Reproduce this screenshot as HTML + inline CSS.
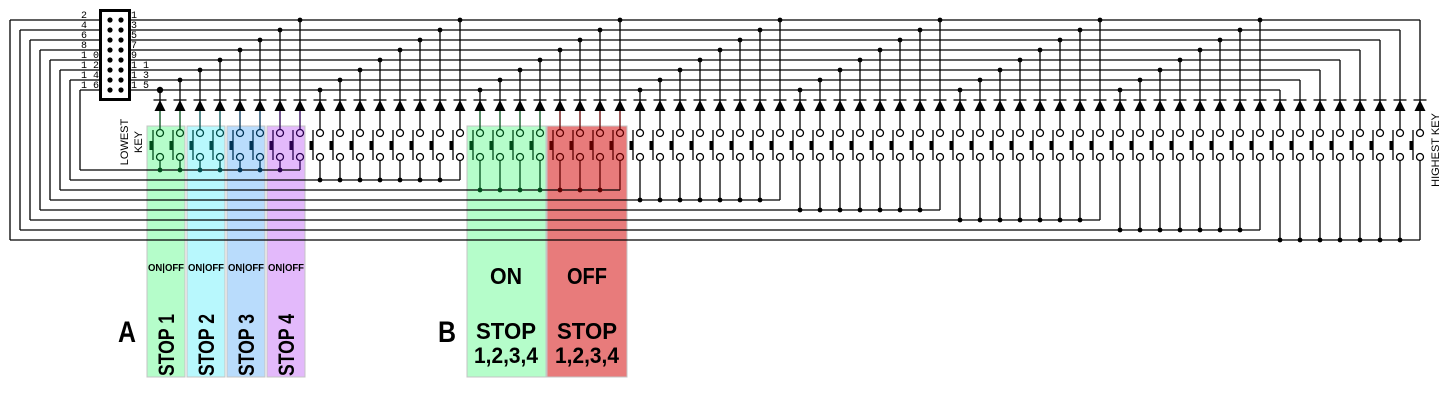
<!DOCTYPE html>
<html><head><meta charset="utf-8"><style>
html,body{margin:0;padding:0;background:#fff;width:1448px;height:400px;overflow:hidden}
svg{display:block}
.t{font-family:"Liberation Sans",sans-serif}
.m{font-family:"Liberation Mono",monospace;font-size:10px}
</style></head><body>
<svg id="s" width="1448" height="400" viewBox="0 0 1448 400" xmlns="http://www.w3.org/2000/svg">
<g id="bg">
<rect x="147" y="126" width="38" height="251" fill="#b5fdca" stroke="#c4c4c4"/>
<rect x="187" y="126" width="38" height="251" fill="#b8f8fd" stroke="#c4c4c4"/>
<rect x="227" y="126" width="38" height="251" fill="#b9dcfc" stroke="#c4c4c4"/>
<rect x="267" y="126" width="38" height="251" fill="#e3b9fb" stroke="#c4c4c4"/>
<rect x="467" y="126" width="79" height="251" fill="#b5fdca" stroke="#c4c4c4"/>
<rect x="547" y="126" width="80" height="251" fill="#e87b7b" stroke="#c4c4c4"/>
</g>
<g id="w" stroke="#000" stroke-width="1.3" fill="none"></g>
<g id="d" fill="#000"></g>
<rect x="100.5" y="10.5" width="29" height="89" fill="none" stroke="#000" stroke-width="3"/>
<g class="m" fill="#000">
<text x="81" y="18">2</text><text x="81" y="28">4</text><text x="81" y="38">6</text><text x="81" y="48">8</text>
<text x="81" y="58">1 0</text><text x="81" y="68">1 2</text><text x="81" y="78">1 4</text><text x="81" y="88">1 6</text>
<text x="131" y="18">1</text><text x="131" y="28">3</text><text x="131" y="38">5</text><text x="131" y="48">7</text>
<text x="131" y="58">9</text><text x="131" y="68">1 1</text><text x="131" y="78">1 3</text><text x="131" y="88">1 5</text>
</g>
<g class="t" font-size="11" fill="#000">
<text transform="translate(128,142) rotate(-90)" text-anchor="middle">LOWEST</text>
<text transform="translate(142,142) rotate(-90)" text-anchor="middle">KEY</text>
<text transform="translate(1439,150) rotate(-90)" text-anchor="middle">HIGHEST KEY</text>
</g>
<g class="t" font-weight="bold" fill="#000">
<text x="166" y="271" font-size="10" text-anchor="middle" textLength="36" lengthAdjust="spacingAndGlyphs">ON|OFF</text>
<text x="206" y="271" font-size="10" text-anchor="middle" textLength="36" lengthAdjust="spacingAndGlyphs">ON|OFF</text>
<text x="246" y="271" font-size="10" text-anchor="middle" textLength="36" lengthAdjust="spacingAndGlyphs">ON|OFF</text>
<text x="286" y="271" font-size="10" text-anchor="middle" textLength="36" lengthAdjust="spacingAndGlyphs">ON|OFF</text>
<text transform="translate(174,345) rotate(-90)" font-size="22" text-anchor="middle" textLength="62" lengthAdjust="spacingAndGlyphs">STOP 1</text>
<text transform="translate(214,345) rotate(-90)" font-size="22" text-anchor="middle" textLength="62" lengthAdjust="spacingAndGlyphs">STOP 2</text>
<text transform="translate(254,345) rotate(-90)" font-size="22" text-anchor="middle" textLength="62" lengthAdjust="spacingAndGlyphs">STOP 3</text>
<text transform="translate(294,345) rotate(-90)" font-size="22" text-anchor="middle" textLength="62" lengthAdjust="spacingAndGlyphs">STOP 4</text>
<text x="127" y="342" font-size="30" text-anchor="middle" textLength="18" lengthAdjust="spacingAndGlyphs">A</text>
<text x="447" y="342" font-size="30" text-anchor="middle" textLength="18" lengthAdjust="spacingAndGlyphs">B</text>
<text x="506" y="284" font-size="23" text-anchor="middle" textLength="32" lengthAdjust="spacingAndGlyphs">ON</text>
<text x="587" y="284" font-size="23" text-anchor="middle" textLength="40" lengthAdjust="spacingAndGlyphs">OFF</text>
<text x="506" y="339" font-size="23" text-anchor="middle" textLength="60" lengthAdjust="spacingAndGlyphs">STOP</text>
<text x="587" y="339" font-size="23" text-anchor="middle" textLength="60" lengthAdjust="spacingAndGlyphs">STOP</text>
<text x="506" y="363" font-size="22" text-anchor="middle" textLength="64" lengthAdjust="spacingAndGlyphs">1,2,3,4</text>
<text x="587" y="363" font-size="22" text-anchor="middle" textLength="64" lengthAdjust="spacingAndGlyphs">1,2,3,4</text>
</g>
</svg>
<script>
(function(){
var NS="http://www.w3.org/2000/svg",W=document.getElementById('w'),D=document.getElementById('d');
function el(p,tag,a){var e=document.createElementNS(NS,tag);for(var k in a)e.setAttribute(k,a[k]);p.appendChild(e);return e;}
function ln(x1,y1,x2,y2,c){el(W,'line',{x1:x1,y1:y1,x2:x2,y2:y2,stroke:c||'#000'});}
function dot(x,y,r,c){el(D,'circle',{cx:x,cy:y,r:r||2.4,fill:c||'#000'});}
function col(k){
 if(k<2)return '#004d1a';if(k<4)return '#004d4d';if(k<6)return '#003355';if(k<8)return '#2a0050';
 if(k>=16&&k<20)return '#004d1a';if(k>=20&&k<24)return '#600000';return '#000';}
for(var i=0;i<8;i++){dot(110,20+10*i,2.6);dot(121,20+10*i,2.6);}
for(var j=0;j<8;j++){var y=90-10*j,xe=1280+20*j;ln(130,y,xe,y);}
for(var g=0;g<8;g++){var yp=90-10*g,xl=80-10*g,yb=170+10*g,xe=160+20*(8*g+7);
 ln(100,yp,xl,yp);ln(xl,yp,xl,yb);ln(xl,yb,xe,yb);}
for(var k=0;k<64;k++){
 var x=160+20*k,j=k%8,g=Math.floor(k/8),yc=90-10*j,yb=170+10*g,c=col(k);
 ln(x,yc,x,110);
 el(D,'polygon',{points:(x-5.5)+',111 '+(x+5.5)+',111 '+x+',100'});
 ln(x-6.5,100,x+6.5,100);
 ln(x,111,x,129.5,c);
 el(W,'circle',{cx:x,cy:133,r:3.5,stroke:c,fill:'none'});
 el(W,'circle',{cx:x,cy:157,r:3.5,stroke:c,fill:'none'});
 ln(x-7,130,x-7,160,c);
 el(D,'rect',{x:x-10.5,y:141,width:4,height:9,fill:c});
 ln(x,160.5,x,yb,c);
 if(k<56) dot(x,yc,2.4);
 if(j<7) dot(x,yb,2.4,c);
}
dot(160,90,3.2);
})();
</script>
</body></html>
